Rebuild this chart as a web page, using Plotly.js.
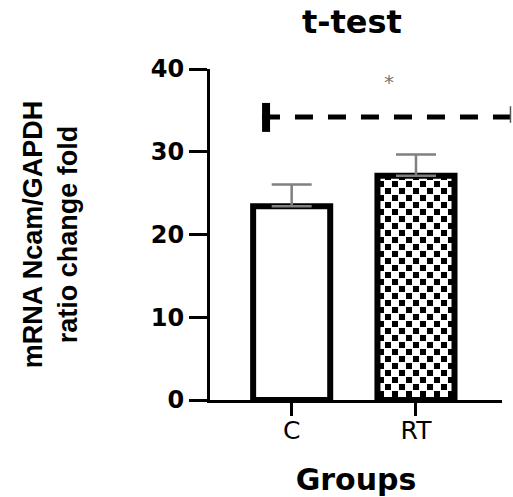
<!DOCTYPE html>
<html>
<head>
<meta charset="utf-8">
<script src="https://cdn.plot.ly/plotly-3.0.1.min.js"></script>
<style>html,body{margin:0;padding:0;background:#fff;}#chart{width:513px;height:497px;}</style>
</head>
<body>
<div id="chart"></div>
<script>
// ---- data ----
const categories = ['C', 'RT'];
const means = [23.4, 27.1];
const errUp = [2.65, 2.57];
const yTicks = [0, 10, 20, 30, 40];
const sigLevel = 34.2;        // dashed comparison line
const sigBarSpan = [32.4, 35.9]; // thick end marker
const sigText = '*';
const sigTextLevel = 38.4;

const data = [{
  type: 'bar',
  x: categories,
  y: means,
  width: [0.62, 0.62],
  marker: {
    color: ['#ffffff', '#ffffff'],
    line: {color: '#000000', width: 6},
    pattern: {shape: ['', '.'], fgcolor: '#000', bgcolor: '#fff', size: 7, solidity: 0.4}
  },
  error_y: {
    type: 'data', symmetric: false, array: errUp, arrayminus: [0, 0],
    color: '#808080', thickness: 2.5, width: 20
  },
  hoverinfo: 'none'
}];

const layout = {
  width: 513, height: 497,
  margin: {l: 210, r: 11, t: 69, b: 97},
  paper_bgcolor: '#fff', plot_bgcolor: '#fff',
  showlegend: false,
  title: {
    text: 't-test', xref: 'container', x: 0.686, xanchor: 'center',
    yref: 'container', y: 0.957, yanchor: 'middle',
    font: {family: 'DejaVu Sans', size: 32, weight: 'bold', color: '#000'}
  },
  xaxis: {
    type: 'category', range: [-0.657, 1.692],
    showline: true, linecolor: '#000', linewidth: 3,
    ticks: 'outside', ticklen: 13, tickwidth: 3, tickcolor: '#000',
    ticklabelstandoff: -7,
    showgrid: false, zeroline: false,
    tickfont: {family: 'DejaVu Sans', size: 25, color: '#000'},
    title: {text: 'Groups', standoff: 30,
      font: {family: 'DejaVu Sans', size: 30, weight: 'bold', color: '#000'}}
  },
  yaxis: {
    range: [0, 40], tickvals: yTicks, ticktext: yTicks.map(String),
    showline: true, linecolor: '#000', linewidth: 3,
    ticks: 'outside', ticklen: 18, tickwidth: 3, tickcolor: '#000',
    showgrid: false, zeroline: false,
    tickfont: {family: 'DejaVu Sans', size: 24, weight: 'bold', color: '#000'},
    title: {text: 'mRNA Ncam/GAPDH<br>ratio change fold', standoff: 66,
      font: {family: 'Liberation Sans', size: 27, weight: 'bold', color: '#000'}}
  },
  shapes: [
    {type: 'line', xref: 'paper', yref: 'y', x0: 0.178, x1: 1.031, y0: sigLevel, y1: sigLevel,
     line: {color: '#000', width: 5, dash: '18px,15px'}},
    {type: 'line', xref: 'paper', yref: 'y', x0: 0.192, x1: 0.192, y0: sigBarSpan[0], y1: sigBarSpan[1],
     line: {color: '#000', width: 8}},
    {type: 'line', xref: 'paper', yref: 'y', x0: 1.029, x1: 1.029, y0: 33.5, y1: 35.5,
     line: {color: '#555', width: 1.5}}
  ],
  annotations: [
    {text: sigText, xref: 'paper', yref: 'y', x: 0.613, y: sigTextLevel, showarrow: false,
     xanchor: 'center', yanchor: 'middle',
     font: {family: 'DejaVu Sans', size: 20, color: '#777'}}
  ]
};

Plotly.newPlot('chart', data, layout, {staticPlot: true, displayModeBar: false}).then(function (gd) {
  const ns = 'http://www.w3.org/2000/svg';
  const svg = gd.querySelector('svg.main-svg');
  let defs = svg.querySelector('defs');
  if (!defs) { defs = document.createElementNS(ns, 'defs'); svg.insertBefore(defs, svg.firstChild); }
  const pat = document.createElementNS(ns, 'pattern');
  pat.setAttribute('id', 'checker');
  pat.setAttribute('patternUnits', 'userSpaceOnUse');
  pat.setAttribute('width', 14);
  pat.setAttribute('height', 14);
  const cells = [[0, 0, 14, 14, '#fff'], [0, 0, 6, 6, '#000'], [7, 7, 6, 6, '#000']];
  cells.forEach(function (c) {
    const r = document.createElementNS(ns, 'rect');
    r.setAttribute('x', c[0]); r.setAttribute('y', c[1]);
    r.setAttribute('width', c[2]); r.setAttribute('height', c[3]);
    r.setAttribute('fill', c[4]);
    pat.appendChild(r);
  });
  defs.appendChild(pat);
  const pts = gd.querySelectorAll('.barlayer .trace .point path');
  if (pts.length > 1) { pts[1].style.fill = 'url(#checker)'; }
});
</script>
</body>
</html>
